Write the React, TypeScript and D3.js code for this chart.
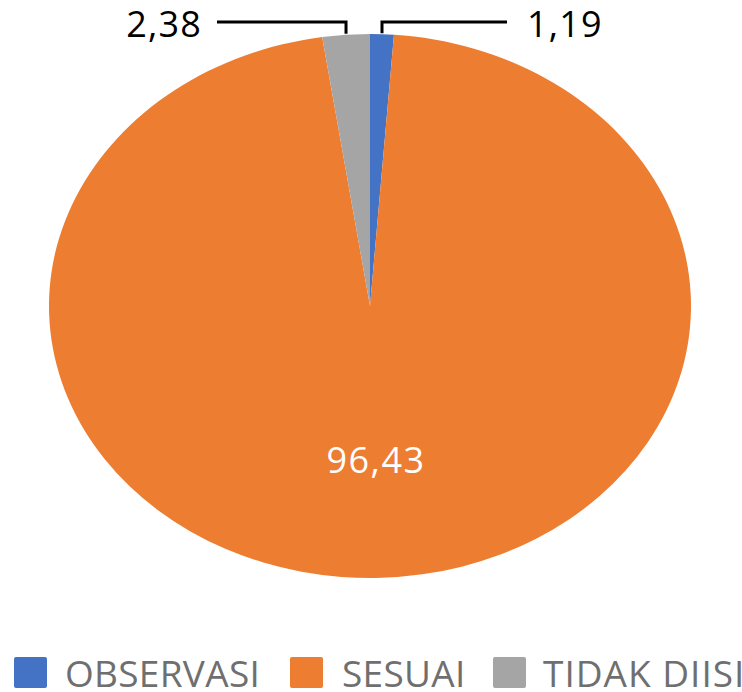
import React from 'react'
import * as d3 from 'd3'

const categories = ['OBSERVASI', 'SESUAI', 'TIDAK DIISI']
const values = [1.19, 96.43, 2.38]
const labels = ['1,19', '96,43', '2,38']
const colors = ['#4472C4', '#ED7D31', '#A5A5A5']

const W = 742
const H = 692
const cx = 370
const cy = 306
const rx = 321
const ry = 272
const FONT = '"Open Sans", "Noto Sans", sans-serif'

export default function App() {
  const pie = d3.pie<number>().sort(null).value(d => d)
  const arcs = pie(values)
  const arc = d3.arc<d3.PieArcDatum<number>>().innerRadius(0).outerRadius(rx)

  // point on the ellipse edge for a given angle (0 = top, clockwise)
  const edge = (a: number) => [cx + rx * Math.sin(a), cy - ry * Math.cos(a)]
  const lineY = 22

  // legend layout
  const legendX = [14, 290, 493]
  const legendTextX = [65, 342, 543]
  const legendY = 672

  return (
    <svg width={W} height={H} style={{ position: 'absolute', left: 0, top: 0 }}>
      <rect width={W} height={H} fill="#fff" />
      <g transform={`translate(${cx},${cy}) scale(1,${ry / rx})`}>
        {arcs.map((a, i) => (
          <path key={i} d={arc(a) || ''} fill={colors[i]} />
        ))}
      </g>

      {arcs.map((a, i) => {
        const mid = (a.startAngle + a.endAngle) / 2
        if (i === 1) {
          return (
            <text key={i} x={376} y={459} fill="#fff" fontFamily={FONT} fontSize={36}
              letterSpacing={1.5} textAnchor="middle" dominantBaseline="central">{labels[i]}</text>
          )
        }
        const [px, py] = edge(mid)
        const right = i === 0
        const endX = right ? 507 : 217
        return (
          <g key={i}>
            <path d={`M${px},${py - 1}L${px},${lineY}L${endX},${lineY}`} fill="none" stroke="#000" strokeWidth={3} />
            <text x={right ? 527 : 202} y={lineY + 1} fontFamily={FONT} fontSize={36} letterSpacing={1.2}
              textAnchor={right ? 'start' : 'end'} dominantBaseline="central" fill="#000">{labels[i]}</text>
          </g>
        )
      })}

      {categories.map((c, i) => (
        <g key={c}>
          <rect x={legendX[i]} y={legendY - 15} width={33} height={31} rx={2} fill={colors[i]} />
          <text x={legendTextX[i]} y={legendY} fontFamily={FONT} fontSize={37} fill="#6f6f6f"
            letterSpacing={i === 2 ? 1 : 0.3} dominantBaseline="central">{c}</text>
        </g>
      ))}
    </svg>
  )
}
